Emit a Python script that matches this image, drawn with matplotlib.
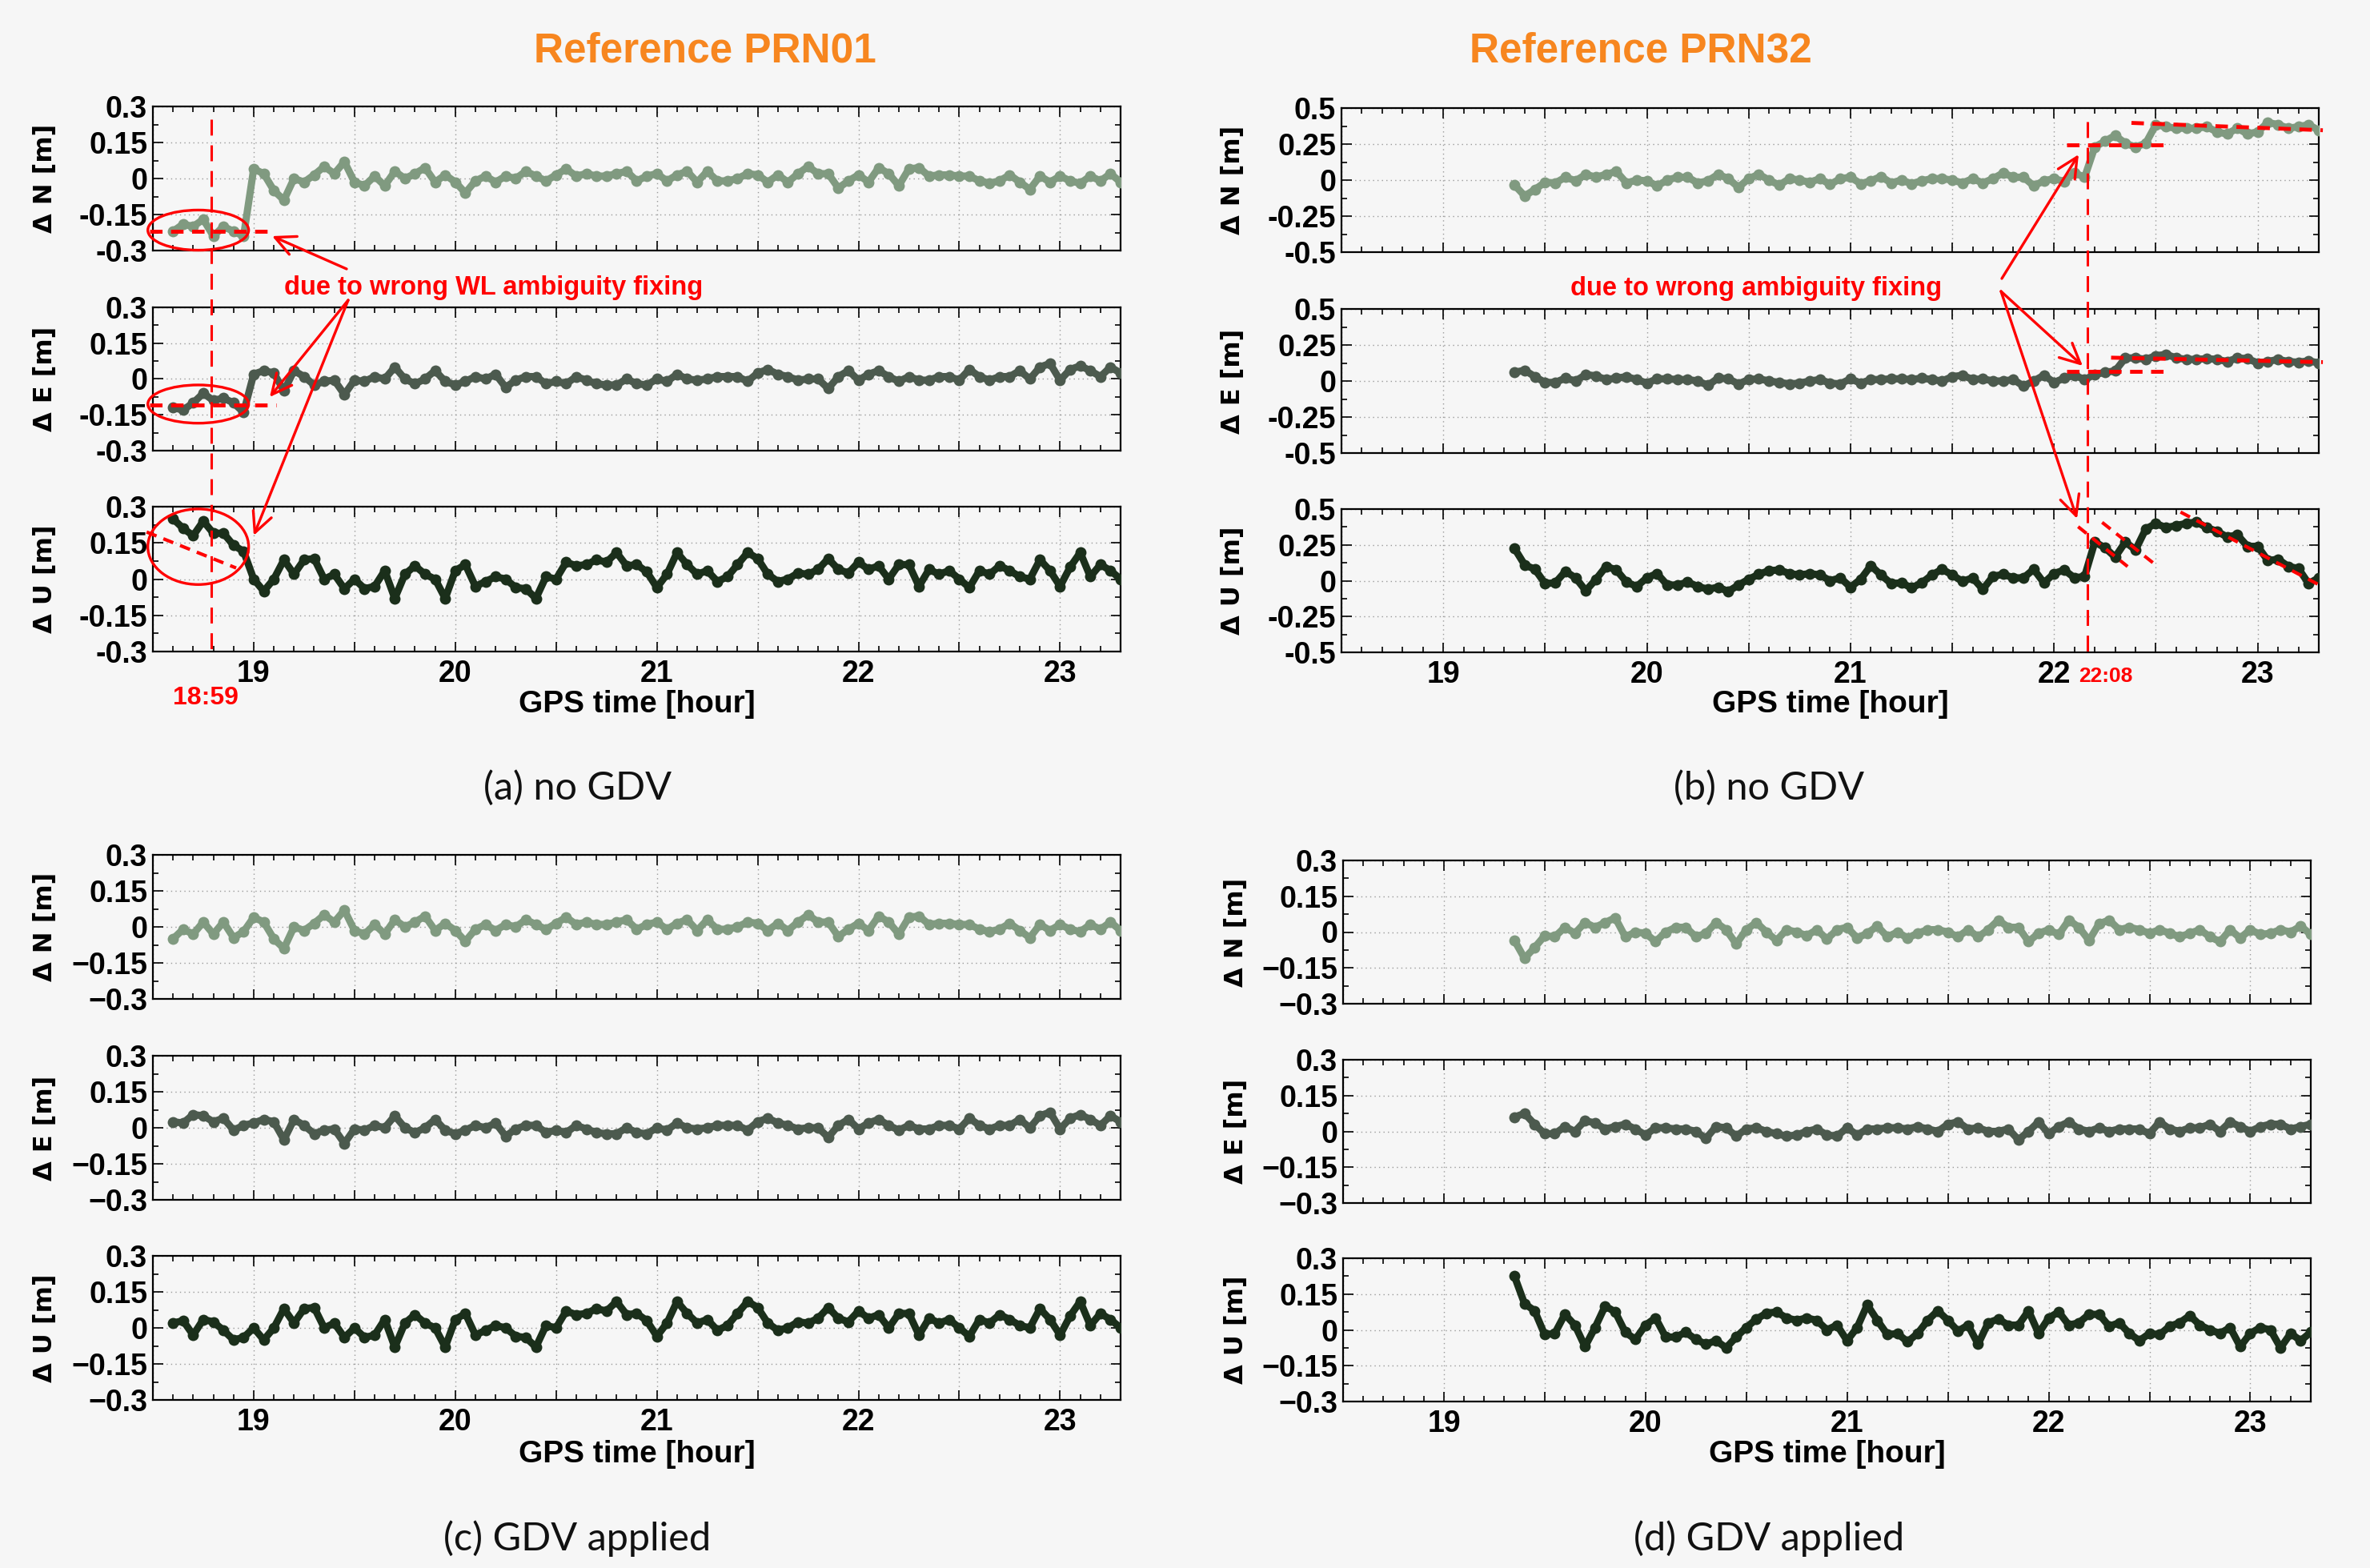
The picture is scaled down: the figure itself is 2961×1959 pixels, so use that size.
import numpy as np
import matplotlib
matplotlib.use("Agg")
import matplotlib.pyplot as plt
from matplotlib.ticker import MultipleLocator, FuncFormatter
from matplotlib.patches import Ellipse, FancyArrowPatch
from matplotlib.lines import Line2D
from matplotlib.transforms import blended_transform_factory

# ---------------- data (0.05 h sampling) ----------------
# Reference PRN01, GDV applied  (18.60 ... 23.30 h)
c_N = [-0.05, -0.01, -0.03, 0.02, -0.03, 0.02, -0.045, -0.02, 0.04, 0.02, -0.05, -0.09,
       0.0, -0.015, 0.015, 0.05, 0.02, 0.07, -0.015, -0.03, 0.01, -0.03, 0.03, 0.0,
       0.02, 0.045, -0.015, 0.015, -0.015, -0.06, -0.01, 0.01, -0.015, 0.01, 0.0, 0.03,
       0.01, -0.01, 0.015, 0.04, 0.01, 0.02, 0.01, 0.01, 0.02, 0.03, -0.01,
       0.01, 0.02, -0.01, 0.015, 0.03, -0.015, 0.03, -0.01, -0.01, 0.0, 0.02, 0.015,
       -0.015, 0.015, -0.015, 0.02, 0.05, 0.02, 0.02, -0.04, -0.01, 0.015, -0.015, 0.045,
       0.02, -0.03, 0.04, 0.045, 0.01, 0.015, 0.015, 0.01, 0.01, -0.01, -0.02, -0.01,
       0.015, -0.015, -0.045, 0.01, -0.015, 0.01, -0.01, -0.02, 0.01, -0.01, 0.02, -0.015]
c_E = [0.025, 0.02, 0.055, 0.05, 0.025, 0.04, -0.01, 0.01, 0.02, 0.035, 0.025, -0.05,
       0.035, 0.01, -0.025, -0.01, -0.005, -0.065, -0.005, -0.01, 0.01, 0.0, 0.05, 0.0,
       -0.02, 0.0, 0.035, -0.01, -0.025, -0.01, 0.01, 0.0, 0.02, -0.035, -0.005, 0.01,
       0.01, -0.02, -0.01, -0.02, 0.01, -0.005, -0.02, -0.025, -0.025, 0.0, -0.02,
       -0.025, 0.0, -0.01, 0.02, 0.0, -0.005, 0.0, 0.01, 0.01, 0.01, -0.01, 0.025,
       0.04, 0.02, 0.01, -0.005, 0.0, 0.0, -0.04, 0.01, 0.035, -0.005, 0.02, 0.035,
       0.01, -0.01, 0.01, -0.005, -0.005, 0.01, 0.01, -0.005, 0.04, 0.01, -0.005, 0.01,
       0.01, 0.035, 0.0, 0.05, 0.065, -0.005, 0.04, 0.055, 0.035, 0.01, 0.05, 0.025]
c_U = [0.02, 0.03, -0.03, 0.035, 0.025, -0.01, -0.05, -0.04, 0.0, -0.05, 0.0, 0.08,
       0.02, 0.08, 0.085, 0.0, 0.02, -0.04, 0.0, -0.04, -0.03, 0.035, -0.08, 0.02,
       0.055, 0.02, 0.0, -0.08, 0.035, 0.06, -0.03, -0.01, 0.01, 0.0, -0.035, -0.04,
       -0.08, 0.01, 0.0, 0.07, 0.055, 0.06, 0.08, 0.07, 0.11, 0.055, 0.06,
       0.03, -0.035, 0.02, 0.11, 0.06, 0.02, 0.035, -0.01, 0.01, 0.06, 0.11, 0.085,
       0.02, -0.01, 0.0, 0.025, 0.02, 0.04, 0.085, 0.04, 0.025, 0.07, 0.04, 0.055,
       0.0, 0.06, 0.06, -0.03, 0.04, 0.02, 0.035, 0.0, -0.035, 0.035, 0.02, 0.055,
       0.035, 0.01, 0.0, 0.08, 0.035, -0.03, 0.05, 0.11, 0.01, 0.06, 0.035, 0.0]

# Reference PRN01, no GDV (same epochs)
a_N = [-0.22, -0.19, -0.2, -0.17, -0.24, -0.2, -0.22, -0.24] + c_N[8:]
a_E = [-0.12, -0.13, -0.1, -0.06, -0.09, -0.08, -0.1, -0.14] + c_E[8:]
a_U = [0.25, 0.21, 0.18, 0.24, 0.19, 0.19, 0.14, 0.115] + c_U[8:]

# Reference PRN32, GDV applied  (19.35 ... 23.30 h)
d_N = [-0.035, -0.11, -0.065, -0.015, -0.02, 0.02, -0.005, 0.04, 0.02, 0.04, 0.06, -0.02,
       0.0, -0.005, -0.04, 0.0, 0.02, 0.02, -0.02, -0.005, 0.04, 0.01, -0.05, 0.01,
       0.04, 0.0, -0.035, 0.01, 0.0, -0.015, 0.01, -0.03,
       0.01, 0.02, -0.025, -0.005, 0.025, -0.02, 0.0, -0.025, -0.005, 0.01, 0.01, 0.0,
       -0.02, 0.01, -0.02, 0.01, 0.05, 0.02, 0.02, -0.04, -0.005, 0.01, -0.01, 0.05,
       0.02, -0.035, 0.035, 0.05, 0.01, 0.02, 0.01, -0.005, 0.01, -0.005, -0.02, -0.005,
       0.01, -0.02, -0.04, 0.01, -0.025, 0.01, -0.01, -0.005, 0.01, 0.0, 0.025, -0.01]
d_E = [0.06, 0.075, 0.03, -0.01, -0.01, 0.02, 0.0, 0.045, 0.035, 0.01, 0.02, 0.03,
       0.01, -0.015, 0.015, 0.015, 0.01, 0.01, 0.0, -0.03, 0.02, 0.015, -0.02, 0.01,
       0.015, 0.0, -0.01, -0.02, -0.015, 0.0, 0.01, -0.015,
       -0.02, 0.015, -0.015, 0.01, 0.01, 0.015, 0.015, 0.01, 0.02, 0.01, 0.0, 0.03,
       0.04, 0.01, 0.015, 0.0, 0.0, 0.01, -0.035, 0.0, 0.04, -0.01, 0.02, 0.04,
       0.01, 0.0, 0.015, 0.0, 0.01, 0.01, 0.01, -0.01, 0.04, 0.01, 0.0, 0.015,
       0.015, 0.03, 0.0, 0.04, 0.02, 0.0, 0.02, 0.03, 0.03, 0.01, 0.02, 0.03]
d_U = [0.225, 0.11, 0.08, -0.02, -0.015, 0.065, 0.02, -0.07, 0.01, 0.1, 0.075, -0.01,
       -0.04, 0.02, 0.05, -0.03, -0.03, -0.01, -0.04, -0.06, -0.045, -0.075, -0.03, 0.01,
       0.045, 0.07, 0.075, 0.05, 0.04, 0.05, 0.04, 0.0,
       0.02, -0.045, 0.01, 0.105, 0.04, -0.02, -0.015, -0.05, -0.015, 0.04, 0.08, 0.04,
       -0.005, 0.02, -0.06, 0.03, 0.045, 0.02, 0.02, 0.08, -0.015, 0.05, 0.075, 0.02,
       0.03, 0.065, 0.065, 0.015, 0.03, -0.015, -0.045, -0.015, -0.02, 0.015, 0.03, 0.06,
       0.02, 0.0, -0.015, 0.01, -0.07, -0.015, 0.01, 0.0, -0.075, -0.015, -0.045, -0.01]

# Reference PRN32, no GDV: identical up to 22:08, wrong fixing afterwards (22.20 ... 23.30 h)
b_N = d_N[:57] + [0.23, 0.27, 0.31, 0.255, 0.23, 0.255, 0.385, 0.37, 0.36, 0.36, 0.36, 0.37,
                  0.335, 0.32, 0.36, 0.32, 0.335, 0.4, 0.385, 0.36, 0.37, 0.385, 0.345]
b_E = d_E[:57] + [0.045, 0.06, 0.07, 0.16, 0.16, 0.15, 0.175, 0.185, 0.16, 0.15, 0.15, 0.155,
                  0.15, 0.135, 0.16, 0.155, 0.125, 0.135, 0.15, 0.135, 0.13, 0.14, 0.125]
b_U = d_U[:57] + [0.27, 0.23, 0.165, 0.27, 0.215, 0.36, 0.40, 0.37, 0.385, 0.40, 0.41, 0.37,
                  0.345, 0.305, 0.32, 0.24, 0.24, 0.14, 0.15, 0.10, 0.085, -0.02, 0.02]

t01 = np.round(18.60 + 0.05 * np.arange(len(c_N)), 2)
t32 = np.round(19.35 + 0.05 * np.arange(len(d_N)), 2)

yt_03 = [-0.3, -0.15, 0, 0.15, 0.3]
yl_03_hy = ['-0.3', '-0.15', '0', '0.15', '0.3']
yl_03_mi = ['\u22120.3', '\u22120.15', '0', '0.15', '0.3']
yt_05 = [-0.5, -0.25, 0, 0.25, 0.5]
yl_05 = ['-0.5', '-0.25', '0', '0.25', '0.5']
comp_labels = ['\u0394 N [m]', '\u0394 E [m]', '\u0394 U [m]']
titles = ['Reference PRN01', 'Reference PRN32']
captions = ['(a) no GDV', '(b) no GDV', '(c) GDV applied', '(d) GDV applied']

# ---------------- style ----------------
W, H, DPI = 2961, 1959, 100
BG = '#f6f6f6'
COLS = ['#809a80', '#4c5a4e', '#1b2f1b']
RED = '#ff0000'
ORANGE = '#f7861f'
plt.rcParams['font.family'] = ['Liberation Sans', 'DejaVu Sans']
plt.rcParams['font.weight'] = 'bold'
plt.rcParams['axes.unicode_minus'] = False

fig = plt.figure(figsize=(W / DPI, H / DPI), dpi=DPI, facecolor=BG)


def fx(x):
    return x / W


def fy(y):
    return 1 - y / H


panels = [
    dict(l=191, r=1400, rows=[(133, 313), (384, 563), (633, 814)], t=t01,
         ser=[a_N, a_E, a_U], yt=yt_03, yl=yl_03_hy, ylx=57, xly=880, capy=984, capx=721),
    dict(l=1676, r=2897, rows=[(135, 315), (386, 566), (636, 815)], t=t32,
         ser=[b_N, b_E, b_U], yt=yt_05, yl=yl_05, ylx=1541, xly=880, capy=984, capx=2210),
    dict(l=191, r=1400, rows=[(1068, 1248), (1319, 1499), (1569, 1749)], t=t01,
         ser=[c_N, c_E, c_U], yt=yt_03, yl=yl_03_mi, ylx=57, xly=1817, capy=1922, capx=721),
    dict(l=1678, r=2887, rows=[(1075, 1254), (1324, 1503), (1572, 1751)], t=t32,
         ser=[d_N, d_E, d_U], yt=yt_03, yl=yl_03_mi, ylx=1544, xly=1817, capy=1922, capx=2210),
]

int_fmt = FuncFormatter(lambda v, p: f'{int(round(v))}' if abs(v - round(v)) < 1e-6 else '')
all_axes = []
for pi, P in enumerate(panels):
    axs = []
    for k, (top, bot) in enumerate(P['rows']):
        ax = fig.add_axes([fx(P['l']), fy(bot), fx(P['r'] - P['l']), (bot - top) / H])
        ax.set_facecolor(BG)
        ax.plot(P['t'], P['ser'][k], '-o', color=COLS[k], lw=6.5, ms=10, mew=0,
                solid_joinstyle='round', solid_capstyle='round', zorder=3)
        ax.set_xlim(18.5, 23.3)
        ax.set_ylim(P['yt'][0], P['yt'][-1])
        ax.xaxis.set_major_locator(MultipleLocator(0.5))
        ax.xaxis.set_minor_locator(MultipleLocator(0.1))
        ax.xaxis.set_major_formatter(int_fmt)
        ax.set_yticks(P['yt'])
        ax.set_yticklabels(P['yl'])
        ax.yaxis.set_minor_locator(MultipleLocator((P['yt'][1] - P['yt'][0]) / 2))
        ax.tick_params(which='both', direction='in', top=True, right=True, width=1.2,
                       labelsize=27)
        ax.tick_params(which='major', length=9, pad=5)
        ax.tick_params(which='minor', length=5)
        ax.tick_params(axis='x', pad=7)
        if k < 2:
            ax.tick_params(labelbottom=False)
        ax.grid(True, which='major', linestyle=(0, (1, 3)), color='#9a9a9a', linewidth=1.0)
        for s in ax.spines.values():
            s.set_linewidth(1.6)
        fig.text(fx(P['ylx']), fy((top + bot) / 2), comp_labels[k], rotation=90,
                 ha='center', va='center', fontsize=23, fontweight='bold',
                 family=['DejaVu Sans'])
        axs.append(ax)
    fig.text(fx((P['l'] + P['r']) / 2), fy(P['xly']), 'GPS time [hour]', ha='center',
             va='center', fontsize=28, fontweight='bold')
    fig.text(fx(P['capx']), fy(P['capy']), captions[pi], ha='center', va='center',
             fontsize=35, fontweight='normal', color='#111111',
             family=['Lato', 'DejaVu Sans'])
    all_axes.append(axs)

fig.text(fx(881), fy(77), titles[0], ha='center', va='baseline', fontsize=37,
         fontweight='bold', color=ORANGE)
fig.text(fx(2050), fy(77), titles[1], ha='center', va='baseline', fontsize=37,
         fontweight='bold', color=ORANGE)

# ---------------- annotations: panel (a) ----------------
aN, aE, aU = all_axes[0]
dash_long = (0, (6.5, 4))
dash_thick = (0, (3.2, 2.2))
bt = blended_transform_factory(aU.transData, fig.transFigure)
fig.add_artist(Line2D([18.79, 18.79], [fy(149), fy(820)], transform=bt, color=RED,
                      lw=2.2, ls=dash_long, zorder=10))
fig.text(18.76, fy(872), '18:59', transform=bt, ha='center', va='center', color=RED,
         fontsize=23, fontweight='bold')

aN.plot([18.483, 19.09], [-0.22, -0.22], color=RED, lw=3.5, ls=dash_thick, clip_on=False, zorder=6)
aE.plot([18.483, 19.11], [-0.108, -0.108], color=RED, lw=3.5, ls=dash_thick, clip_on=False, zorder=6)
aU.plot([18.469, 18.913], [0.195, 0.046], color=RED, lw=3.0, ls=dash_thick, clip_on=False, zorder=6)
for ax, cy, h in [(aN, -0.215, 0.167), (aE, -0.105, 0.16), (aU, 0.134, 0.313)]:
    ax.add_patch(Ellipse((18.725, cy), 0.5, h, fill=False, ec=RED, lw=2.4,
                         clip_on=False, zorder=7))

fig.text(fx(617), fy(359), 'due to wrong WL ambiguity fixing', ha='center', va='center',
         color=RED, fontsize=23.5, fontweight='bold')


def arrow(x0, y0, x1, y1):
    fig.add_artist(FancyArrowPatch((fx(x0), fy(y0)), (fx(x1), fy(y1)),
                                   transform=fig.transFigure,
                                   arrowstyle='->,head_length=0.45,head_width=0.22',
                                   mutation_scale=40, color=RED, lw=2.4,
                                   shrinkA=0, shrinkB=0, zorder=11))


arrow(433, 336, 340, 295)
arrow(435, 375, 337, 496)
arrow(435, 375, 317, 669)

# ---------------- annotations: panel (b) ----------------
bN, bE, bU = all_axes[1]
bt2 = blended_transform_factory(bU.transData, fig.transFigure)
fig.add_artist(Line2D([22.164, 22.164], [fy(152), fy(824)], transform=bt2, color=RED,
                      lw=2.2, ls=dash_long, zorder=10))
fig.text(22.12, fy(845), '22:08', transform=bt2, ha='left', va='center', color=RED,
         fontsize=19, fontweight='bold')
bN.plot([22.06, 22.56], [0.245, 0.245], color=RED, lw=3.5, ls=dash_thick, clip_on=False, zorder=6)
bN.plot([22.38, 23.32], [0.397, 0.346], color=RED, lw=3.5, ls=dash_thick, clip_on=False, zorder=6)
bE.plot([22.06, 22.56], [0.064, 0.064], color=RED, lw=3.5, ls=dash_thick, clip_on=False, zorder=6)
bE.plot([22.28, 23.32], [0.162, 0.131], color=RED, lw=3.5, ls=dash_thick, clip_on=False, zorder=6)
bU.plot([22.118, 22.361], [0.377, 0.099], color=RED, lw=3.0, ls=dash_thick, clip_on=False, zorder=6)
bU.plot([22.236, 22.485], [0.407, 0.126], color=RED, lw=3.0, ls=dash_thick, clip_on=False, zorder=6)
bU.plot([22.621, 23.319], [0.479, -0.042], color=RED, lw=3.0, ls=dash_thick, clip_on=False, zorder=6)

fig.text(fx(2194), fy(361), 'due to wrong ambiguity fixing', ha='center', va='center',
         color=RED, fontsize=23.5, fontweight='bold')
arrow(2501, 348, 2597, 193)
arrow(2500, 364, 2602, 457)
arrow(2500, 364, 2595, 648)

fig.savefig('out.png', dpi=DPI, facecolor=BG)
